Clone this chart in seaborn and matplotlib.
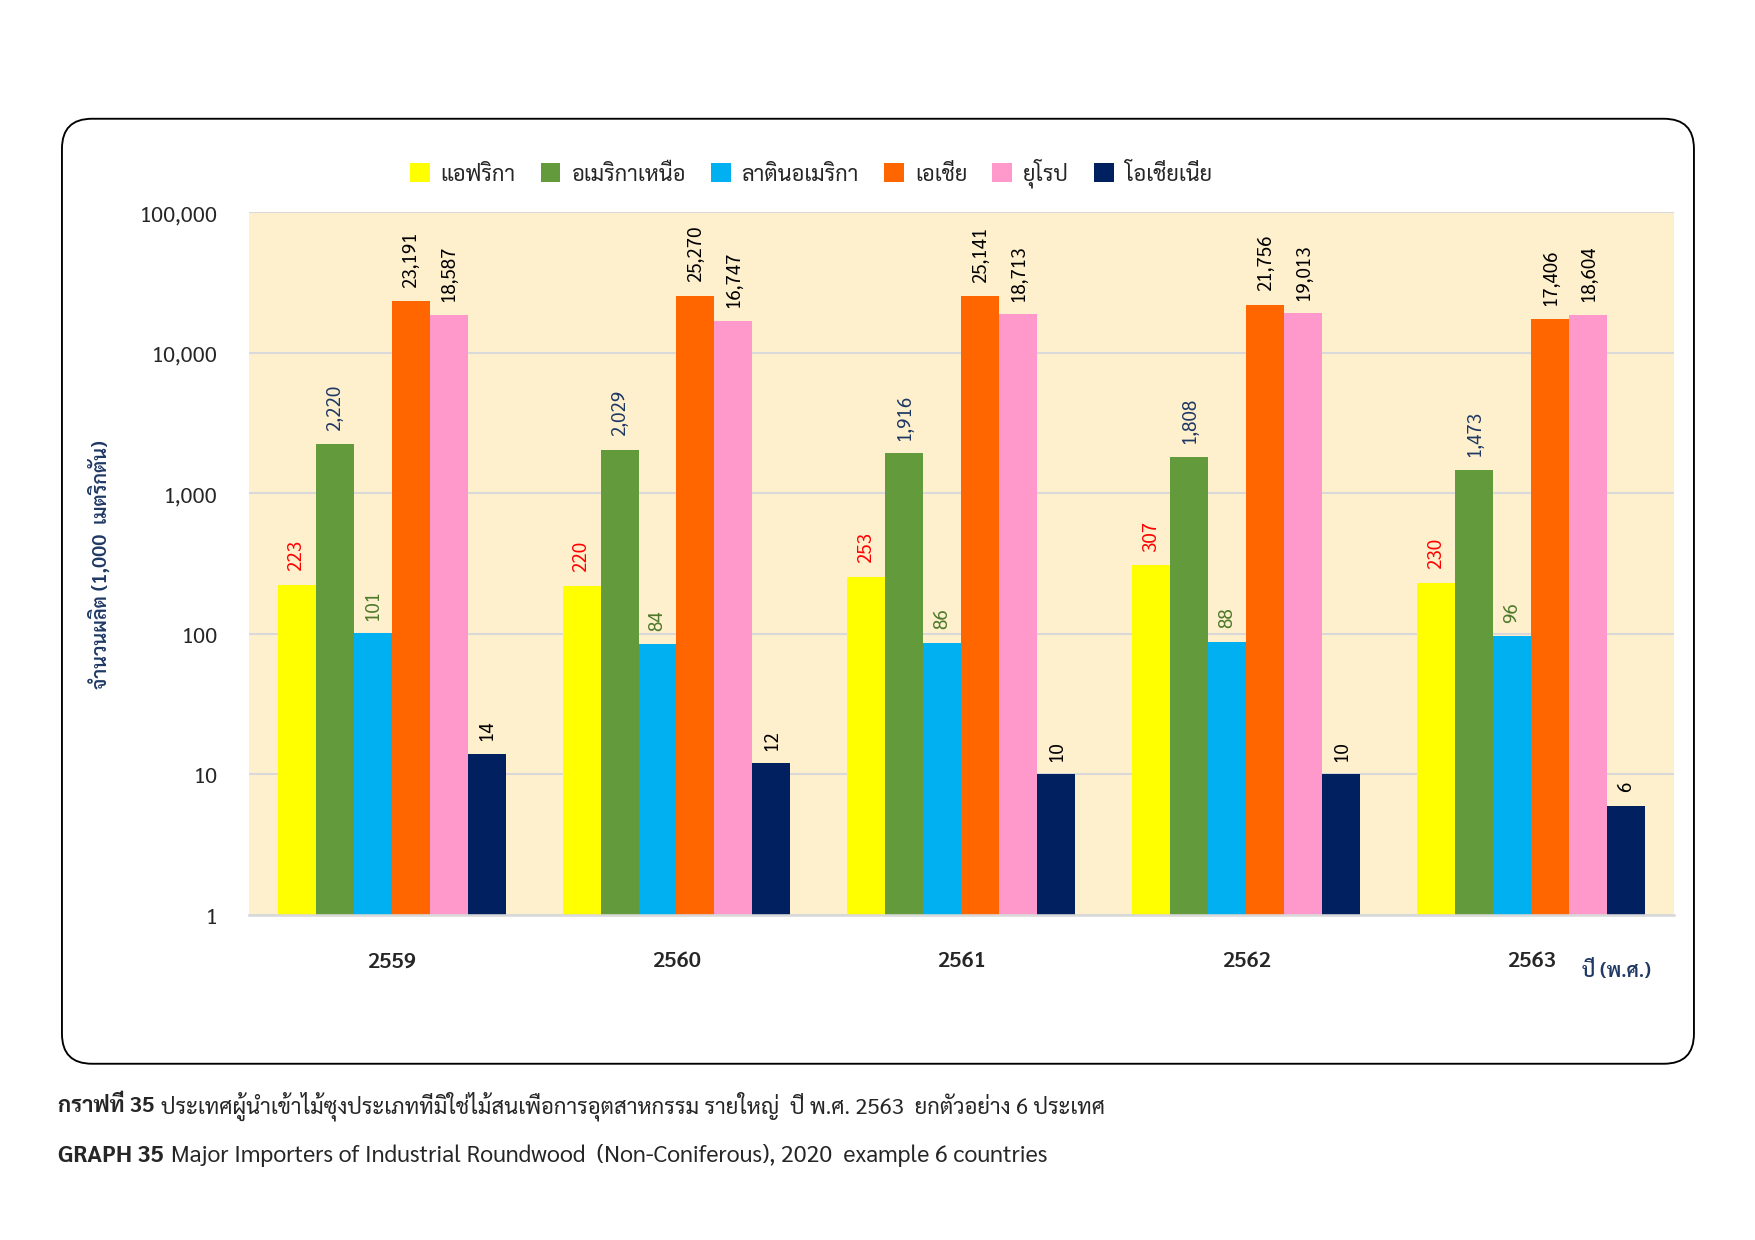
import matplotlib
matplotlib.use("Agg")
import matplotlib.pyplot as plt
import matplotlib.ticker as mticker
from matplotlib import font_manager, ft2font
from matplotlib.patches import FancyBboxPatch, Patch
import seaborn as sns
import pandas as pd

years = ["2559", "2560", "2561", "2562", "2563"]
regions = ["แอฟริกา", "อเมริกาเหนือ", "ลาตินอเมริกา", "เอเชีย", "ยุโรป", "โอเชียเนีย"]
africa = [223, 220, 253, 307, 230]
north_america = [2220, 2029, 1916, 1808, 1473]
latin_america = [101, 84, 86, 88, 96]
asia = [23191, 25270, 25141, 21756, 17406]
europe = [18587, 16747, 18713, 19013, 18604]
oceania = [14, 12, 10, 10, 6]

bar_colors = ["#FFFF00", "#629A3C", "#00B0F0", "#FF6600", "#FF99CC", "#002060"]
label_colors = ["#FF0000", "#1F3864", "#4E7A2C", "#000000", "#000000", "#000000"]
navy = "#1F3864"


def find_thai_font():
    # collect fonts with Thai glyphs, prefer a family that also has a bold face
    weights = {}
    for f in font_manager.fontManager.ttflist:
        try:
            if 0x0E01 in ft2font.FT2Font(f.fname).get_charmap():
                w = f.weight if isinstance(f.weight, int) else 400
                weights.setdefault(f.name, []).append(w)
        except Exception:
            pass
    if not weights:
        return None
    with_bold = [n for n, ws in weights.items() if max(ws) >= 600]
    for p in ["Noto Sans Thai", "Noto Sans Thai UI", "Sarabun", "Tahoma", "Loma", "Garuda"]:
        if p in with_bold:
            return p
    if with_bold:
        return with_bold[0]
    return list(weights)[0]


sns.set_theme(style="white")
thai = find_thai_font()
families = ([thai] if thai else []) + ["DejaVu Sans"]
plt.rcParams["font.family"] = families

df = pd.DataFrame({
    "year": years * 6,
    "region": [r for r in regions for _ in years],
    "value": africa + north_america + latin_america + asia + europe + oceania,
})

fig = plt.figure(figsize=(11.7, 8.273), dpi=150)
fig.patch.set_facecolor("white")

# rounded frame around the chart
frame = FancyBboxPatch((0.413, 1.175), 10.88, 6.30,
                       boxstyle="round,pad=0,rounding_size=0.2",
                       transform=fig.dpi_scale_trans, facecolor="none",
                       edgecolor="black", linewidth=0.9)
fig.patches.append(frame)

ax = fig.add_axes([0.1419, 0.2619, 0.8119, 0.5665])
ax.set_facecolor("#FFF0CD")

sns.barplot(data=df, x="year", y="value", hue="region", hue_order=regions,
            palette=bar_colors, saturation=1, width=0.8, linewidth=0,
            ax=ax, legend=False)
ax.set_yscale("log")
ax.set_ylim(1, 100000)
ax.yaxis.set_major_locator(mticker.LogLocator(base=10))
ax.yaxis.set_minor_locator(mticker.NullLocator())
ax.yaxis.set_major_formatter(mticker.FuncFormatter(lambda v, p: f"{v:,.0f}"))
ax.grid(axis="y", color="#D9D9D9", linewidth=1.0)
ax.set_axisbelow(True)
for s in ["top", "right", "left"]:
    ax.spines[s].set_visible(False)
ax.spines["bottom"].set_color("#D9D9D9")
ax.tick_params(axis="y", length=0, labelsize=10.5, pad=15)
ax.tick_params(axis="x", length=0, labelsize=10.5, pad=17)
for lab in ax.get_xticklabels():
    lab.set_fontweight("semibold")
ax.set_xlabel("")
ax.set_ylabel("จำนวนผลิต (1,000  เมตริกตัน)", color=navy, fontsize=9.5, fontweight="semibold")
ax.yaxis.set_label_coords(-0.097, 0.5)

for container, col in zip(ax.containers, label_colors):
    for bar in container:
        h = bar.get_height()
        ax.annotate(f"{h:,.0f}", (bar.get_x() + bar.get_width() / 2, h),
                    xytext=(0, 7), textcoords="offset points", rotation=90,
                    ha="center", va="bottom", fontsize=9, color=col)

handles = [Patch(facecolor=c, edgecolor="none") for c in bar_colors]
fig.legend(handles, regions, loc="center", bbox_to_anchor=(0.462, 0.860), ncol=6,
           frameon=False, fontsize=10.5, handlelength=0.9, handleheight=1.0,
           handletextpad=0.5, columnspacing=1.15)

fig.text(0.921, 0.2176, "ปี (พ.ศ.)", color=navy, fontsize=9.5, fontweight="semibold",
         ha="center", va="center")

# captions: bold prefix + regular text
fig.canvas.draw()
renderer = fig.canvas.get_renderer()
captions = [
    (1 - 1106 / 1241, 10.6, "กราฟที่ 35",
     "ประเทศผู้นำเข้าไม้ซุงประเภทที่มิใช่ไม้สนเพื่อการอุตสาหกรรม รายใหญ่  ปี พ.ศ. 2563  ยกตัวอย่าง 6 ประเทศ"),
    (1 - 1156 / 1241, 11.2, "GRAPH 35",
     "Major Importers of Industrial Roundwood  (Non-Coniferous), 2020  example 6 countries"),
]
for y, size, bold, rest in captions:
    t = fig.text(0.033, y, bold, fontsize=size, fontweight="bold", va="center", ha="left")
    bb = t.get_window_extent(renderer)
    fig.text(bb.x1 / fig.bbox.width + 0.004, y, rest, fontsize=size, va="center", ha="left")

fig.savefig("out.png", dpi=150)
